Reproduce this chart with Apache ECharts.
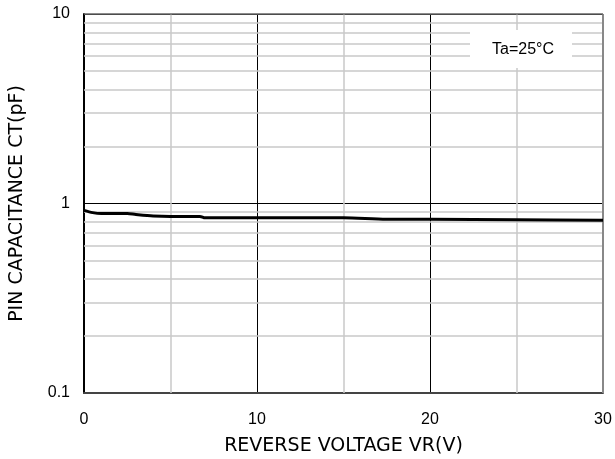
<!DOCTYPE html>
<html><head><meta charset="utf-8">
<script src="https://cdn.jsdelivr.net/npm/echarts@6/dist/echarts.min.js"></script>
<style>html,body{margin:0;padding:0;background:#fff}#c{width:615px;height:459px}</style>
</head><body><div id="c"></div>
<script>
const voltage = [0, 0.5, 1, 2.5, 3, 4, 5, 6.7, 7, 10, 15, 17.5, 20, 25, 30];
const capacitance = [0.92, 0.895, 0.885, 0.885, 0.875, 0.86, 0.855, 0.855, 0.84, 0.84, 0.84, 0.825, 0.825, 0.82, 0.815];
const yMinorLines = [0.2, 0.3, 0.4, 0.5, 0.6, 0.7, 0.8, 0.9, 2, 3, 4, 5, 6, 7, 8, 9];
const xMinorLines = [5, 15, 25];
const xTicks = [0, 10, 20, 30];
const yTicks = [0.1, 1, 10];
const noteText = 'Ta=25°C';

const font = '"Liberation Sans", Arial, sans-serif';
const titleFont = '"DejaVu Sans", sans-serif';
const chart = echarts.init(document.getElementById('c'), null, {renderer: 'canvas'});
const grey = '#c8c8c8';
const mlData = [];
yMinorLines.forEach(v => mlData.push({yAxis: v, lineStyle: {color: grey, width: 1.5, type: 'solid'}}));
xMinorLines.forEach(v => mlData.push({xAxis: v, lineStyle: {color: grey, width: 1.5, type: 'solid'}}));
mlData.push({xAxis: 30, lineStyle: {color: '#888', width: 2, type: 'solid'}});
mlData.push({yAxis: 10, lineStyle: {color: '#666', width: 1.5, type: 'solid'}});

chart.setOption({
  animation: false,
  grid: {left: 84, right: 12, top: 14, bottom: 66, containLabel: false, outerBoundsMode: 'none'},
  xAxis: {
    type: 'value', min: 0, max: 30, interval: 10,
    name: 'REVERSE VOLTAGE VR(V)', nameLocation: 'middle', nameGap: 44,
    nameTextStyle: {fontFamily: titleFont, fontSize: 19, color: '#000'},
    axisLine: {lineStyle: {color: '#444', width: 2}},
    axisTick: {show: false},
    axisLabel: {fontFamily: font, fontSize: 16, color: '#000', margin: 19,
      formatter: v => xTicks.includes(v) ? String(v) : ''},
    splitLine: {show: true, lineStyle: {color: '#000', width: 1}}
  },
  yAxis: {
    type: 'log', logBase: 10, min: 0.1, max: 10,
    name: 'PIN CAPACITANCE CT(pF)', nameLocation: 'middle', nameGap: 57,
    nameTextStyle: {fontFamily: titleFont, fontSize: 19, color: '#000'},
    axisLine: {show: true, lineStyle: {color: '#000', width: 2}},
    axisTick: {show: false},
    axisLabel: {fontFamily: font, fontSize: 16, color: '#000', margin: 14,
      formatter: v => { const m = yTicks.find(t => Math.abs(t - v) < 1e-9); return m !== undefined ? String(m) : ''; }},
    splitLine: {show: true, lineStyle: {color: '#000', width: 1}}
  },
  series: [{
    type: 'line',
    data: voltage.map((x, i) => [x, capacitance[i]]),
    symbol: 'none', smooth: 0.3,
    lineStyle: {color: '#000', width: 3},
    z: 5,
    markLine: {silent: true, symbol: 'none', label: {show: false}, z: 1, data: mlData}
  }],
  graphic: [
    {type: 'rect', left: 470, top: 30, z: 100, shape: {width: 102, height: 38}, style: {fill: '#fff', stroke: null}},
    {type: 'text', left: 492, top: 42, z: 101, style: {text: noteText, fill: '#000', font: '16px ' + font}}
  ]
});
</script>
</body></html>
